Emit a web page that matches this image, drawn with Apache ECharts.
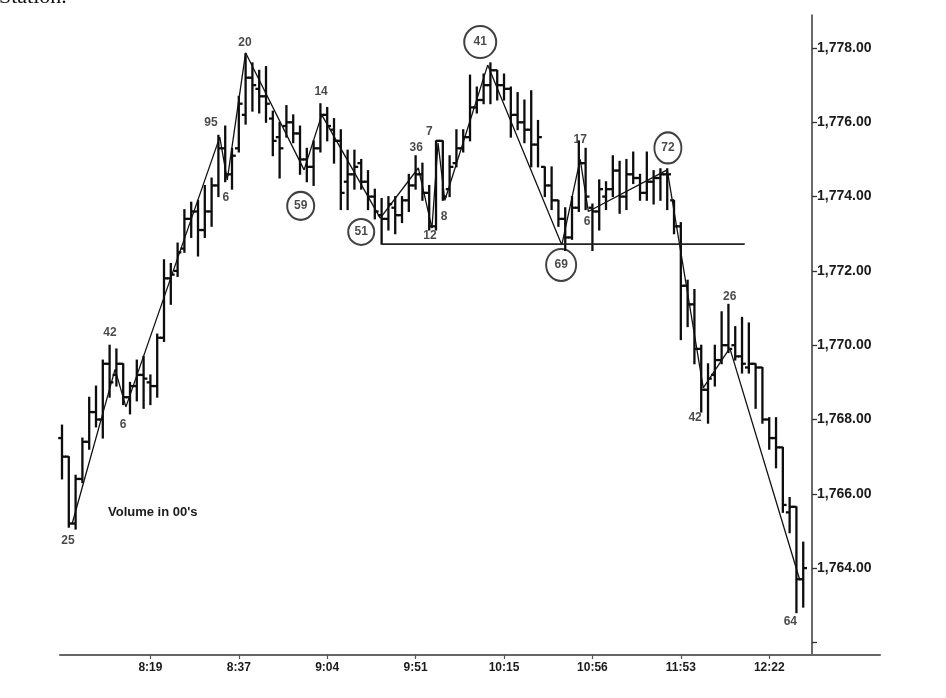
<!DOCTYPE html>
<html>
<head>
<meta charset="utf-8">
<script src="https://cdn.jsdelivr.net/npm/echarts@6/dist/echarts.min.js"></script>
<style>
html,body{margin:0;padding:0;background:#fff;}
#chart{width:946px;height:698px;}
</style>
</head>
<body>
<div id="chart"></div>
<script>
// ---- data ----
const opens  = [1767.5,1767.0,1765.2,1766.4,1767.4,1768.2,1768.0,1769.5,1769.2,1769.5,
                1768.6,1768.9,1769.2,1769.0,1768.9,1770.2,1771.8,1772.0,1772.6,1773.4,
                1773.6,1773.1,1773.6,1774.3,1775.3,1774.6,1775.3,1776.2,1777.2,1776.9,
                1776.7,1776.1,1775.6,1775.9,1776.0,1775.7,1775.0,1774.8,1775.3,1776.2,
                1775.8,1775.5,1774.4,1774.6,1774.9,1774.4,1774.0,1773.5,1773.4,1773.7,
                1773.5,1773.9,1774.3,1774.6,1774.1,1773.2,1775.5,1774.2,1774.9,1775.3,
                1775.6,1776.4,1776.6,1777.0,1777.4,1777.0,1776.9,1776.2,1776.0,1775.8,
                1775.4,1774.8,1774.3,1773.9,1773.4,1772.9,1773.7,1774.9,1773.7,1773.6,
                1774.0,1774.2,1774.7,1774.0,1774.6,1774.5,1774.1,1774.4,1774.5,1774.6,
                1773.9,1773.2,1771.6,1771.1,1769.9,1768.8,1769.2,1769.6,1770.0,1770.0,
                1769.7,1769.4,1769.5,1769.4,1768.0,1767.5,1767.25,1765.5,1765.65,1763.7];
const highs  = [1767.85,1767.0,1766.5,1767.5,1768.6,1768.9,1769.6,1770.0,1769.9,1769.5,
                1769.0,1769.6,1769.7,1769.2,1770.3,1772.3,1772.2,1772.75,1773.65,1773.85,
                1773.9,1774.3,1774.5,1775.65,1775.9,1775.3,1776.7,1777.85,1777.6,1777.4,
                1777.5,1776.3,1776.0,1776.45,1776.2,1775.9,1775.3,1775.5,1776.5,1776.4,
                1776.1,1775.8,1775.25,1775.25,1775.0,1774.7,1774.2,1773.95,1774.0,1774.0,
                1774.0,1774.6,1775.1,1774.9,1774.3,1775.5,1775.5,1775.1,1775.8,1775.8,
                1777.27,1776.95,1777.3,1777.6,1777.4,1777.3,1776.95,1776.8,1776.6,1776.85,
                1776.05,1774.8,1774.8,1773.9,1773.7,1774.0,1775.5,1775.3,1773.8,1774.45,
                1774.4,1775.1,1774.95,1775.0,1775.2,1774.6,1775.2,1774.7,1774.75,1774.75,
                1773.9,1773.3,1771.75,1771.5,1770.0,1769.5,1770.0,1770.9,1771.1,1770.5,
                1770.75,1770.6,1769.5,1769.4,1768.05,1768.05,1767.25,1765.9,1765.65,1764.7];
const lows   = [1766.4,1765.1,1765.05,1766.3,1767.2,1767.8,1767.5,1768.6,1768.9,1768.4,
                1768.15,1768.5,1768.3,1768.4,1768.6,1770.1,1771.1,1771.85,1772.5,1772.9,
                1772.4,1772.9,1773.2,1774.0,1774.4,1774.2,1775.2,1775.95,1776.3,1776.25,
                1776.0,1775.1,1774.5,1775.6,1775.45,1774.6,1774.4,1774.3,1775.2,1775.5,
                1774.9,1773.65,1773.65,1774.2,1774.2,1773.65,1773.4,1772.72,1773.1,1773.0,
                1773.3,1773.6,1774.2,1773.9,1773.1,1773.1,1773.9,1774.0,1774.8,1775.2,
                1775.5,1776.25,1776.5,1776.5,1776.6,1776.6,1775.6,1775.8,1775.45,1774.8,
                1774.8,1774.0,1773.65,1773.2,1772.55,1772.85,1773.6,1773.65,1772.55,1773.1,
                1773.65,1774.0,1773.55,1773.65,1774.35,1773.9,1773.9,1773.8,1773.9,1773.65,
                1773.0,1770.15,1770.5,1769.5,1768.2,1767.9,1768.9,1769.5,1769.8,1769.6,
                1769.25,1769.25,1768.3,1767.9,1767.2,1766.7,1765.5,1764.95,1762.8,1762.95];
const closes = [1767.0,1765.2,1766.4,1767.4,1768.2,1768.0,1769.5,1769.0,1769.5,1768.6,
                1768.9,1769.2,1769.1,1768.9,1770.2,1771.8,1771.9,1772.5,1773.4,1773.6,
                1773.1,1773.6,1774.3,1775.3,1774.6,1775.1,1776.5,1777.2,1777.0,1776.7,
                1776.5,1775.5,1775.3,1776.0,1775.7,1775.0,1774.8,1775.3,1776.2,1775.9,
                1775.5,1774.1,1774.6,1774.8,1774.4,1774.0,1773.6,1773.4,1773.8,1773.5,
                1773.9,1774.3,1774.6,1774.1,1773.2,1775.5,1774.0,1774.8,1775.3,1775.6,
                1776.4,1776.6,1777.0,1777.4,1777.0,1776.9,1776.2,1776.0,1775.8,1775.4,
                1775.6,1774.3,1773.9,1773.4,1772.9,1773.7,1774.9,1774.0,1773.6,1774.2,
                1774.2,1774.7,1774.0,1774.6,1774.5,1774.1,1774.4,1774.5,1774.6,1774.6,
                1773.2,1771.6,1771.1,1769.9,1768.8,1769.1,1769.6,1770.0,1769.9,1769.7,
                1769.5,1769.5,1769.4,1768.0,1767.5,1767.25,1765.7,1765.65,1763.7,1764.0];

// swing (wave) line pivots: bar position, price
const swingPos   = [1.5, 7.8, 9.4, 23.2, 24.3, 27.0, 35.6, 38.2, 46.8, 52.4, 54.4, 55.3, 56.3, 62.6, 73.5, 76.2, 77.4, 89.0, 94.3, 98.2, 108.5];
const swingPrice = [1765.2, 1769.35, 1768.34, 1775.6, 1774.45, 1777.87, 1774.72, 1776.2, 1773.42, 1774.77, 1773.15, 1775.44, 1773.9, 1777.54, 1772.7, 1775.0, 1773.6, 1774.72, 1768.85, 1769.92, 1763.68];

// support line
const supportPrice = 1772.72;
const supportFrom = 47;
const supportTo = 100.4;

// volume annotations (in 00's)
const volText   = ['25','42','6','95','6','20','59','14','51','36','7','12','8','41','69','17','6','72','42','26','64'];
const volPos    = [0.88, 7.06, 8.97, 21.9, 24.1, 26.9, 35.1, 38.1, 44.0, 52.1, 54.0, 54.1, 56.2, 61.5, 73.4, 76.2, 77.2, 89.1, 93.1, 98.2, 107.1];
const volPrice  = [1764.73, 1770.33, 1767.85, 1775.98, 1773.96, 1778.13, 1773.75, 1776.82, 1773.05, 1775.31, 1775.74, 1772.94, 1773.45, 1778.16, 1772.16, 1775.52, 1773.32, 1775.31, 1768.04, 1771.30, 1762.55];
const volCircle = [0,0,0,0,0,0,[27,28],0,[26,26],0,0,0,0,[32,32],[30,32],0,0,[27,31],0,0,0];

// axis ticks
const xTickPos    = [13, 26, 39, 52, 65, 78, 91, 104];
const xTickLabels = ['8:19','8:37','9:04','9:51','10:15','10:56','11:53','12:22'];
const yTickValues  = [1762, 1764, 1766, 1768, 1770, 1772, 1774, 1776, 1778];
const yLabelValues = [1764, 1766, 1768, 1770, 1772, 1774, 1776, 1778];

// ---- chart ----
const FONT = '"Liberation Sans", Arial, sans-serif';
const chart = echarts.init(document.getElementById('chart'));

const barData = opens.map((o, i) => [i, o, highs[i], lows[i], closes[i]]);

function fmtPrice(v) {
  const s = v.toFixed(2);
  const parts = s.split('.');
  const int = parts[0].replace(/\B(?=(\d{3})+(?!\d))/g, ',');
  return int + '.' + parts[1];
}

const TICK = 3.8;
function renderBar(params, api) {
  const x = api.value(0);
  const pO = api.coord([x, api.value(1)]);
  const pH = api.coord([x, api.value(2)]);
  const pL = api.coord([x, api.value(3)]);
  const pC = api.coord([x, api.value(4)]);
  const st = { stroke: '#0d0d0d', lineWidth: 2.3 };
  return {
    type: 'group',
    children: [
      { type: 'line', shape: { x1: pH[0], y1: pH[1] - 0.5, x2: pL[0], y2: pL[1] + 0.5 }, style: st },
      { type: 'line', shape: { x1: pO[0] - TICK, y1: pO[1], x2: pO[0], y2: pO[1] }, style: st },
      { type: 'line', shape: { x1: pC[0], y1: pC[1], x2: pC[0] + TICK, y2: pC[1] }, style: st }
    ]
  };
}

const annoData = volText.map((t, k) => {
  const c = volCircle[k];
  return {
    value: [volPos[k], volPrice[k]],
    name: t,
    symbol: 'circle',
    symbolSize: c ? c : 1,
    itemStyle: c ? { color: 'rgba(0,0,0,0)', borderColor: '#111', borderWidth: 2 }
                 : { color: 'rgba(0,0,0,0)', borderWidth: 0 }
  };
});

const option = {
  animation: false,
  backgroundColor: '#ffffff',
  grid: { left: 60, right: 66, top: 15, bottom: 43 },
  xAxis: {
    type: 'value',
    min: -0.294,
    max: 120.29,
    axisLine: { onZero: false, lineStyle: { color: '#666', width: 2 } },
    axisTick: { customValues: xTickPos, length: 4, lineStyle: { color: '#555', width: 1.2 } },
    axisLabel: {
      customValues: xTickPos,
      margin: 7,
      formatter: function (v) { const k = xTickPos.indexOf(Math.round(v)); return k >= 0 ? xTickLabels[k] : ''; },
      color: '#1a1a1a', fontFamily: FONT, fontWeight: 'bold', fontSize: 12
    },
    splitLine: { show: false }
  },
  yAxis: {
    type: 'value',
    position: 'right',
    offset: -68,
    min: 1761.661,
    max: 1778.888,
    axisLine: { show: true, onZero: false, lineStyle: { color: '#444', width: 1.6 } },
    axisTick: { show: true, customValues: yTickValues, length: 5, lineStyle: { color: '#333', width: 1.3 } },
    axisLabel: {
      customValues: yLabelValues,
      margin: 5,
      formatter: function (v) { return yLabelValues.indexOf(Math.round(v)) >= 0 ? fmtPrice(v) : ''; },
      color: '#1a1a1a', fontFamily: FONT, fontWeight: 'bold', fontSize: 14
    },
    splitLine: { show: false }
  },
  series: [
    {
      type: 'custom',
      name: 'bars',
      renderItem: renderBar,
      encode: { x: 0, y: [1, 2, 3, 4] },
      data: barData,
      z: 2
    },
    {
      type: 'line',
      name: 'swing',
      data: swingPos.map((p, k) => [p, swingPrice[k]]),
      symbol: 'none',
      lineStyle: { color: '#111', width: 1.3 },
      z: 3
    },
    {
      type: 'line',
      name: 'support',
      data: [[supportFrom, supportPrice], [supportTo, supportPrice]],
      symbol: 'none',
      lineStyle: { color: '#222', width: 1.8 },
      z: 3
    },
    {
      type: 'scatter',
      name: 'volume',
      data: annoData,
      label: {
        show: true,
        position: 'inside',
        formatter: function (p) { return p.name; },
        color: '#1a1a1a', fontFamily: FONT, fontWeight: 'bold', fontSize: 12
      },
      emphasis: { disabled: true },
      z: 4
    }
  ],
  graphic: [
    {
      type: 'text', left: 108, top: 506,
      style: { text: "Volume in 00's", fill: '#1a1a1a', font: 'bold 13px ' + FONT }
    },
    {
      type: 'text', left: -1, top: -14,
      style: { text: 'Station.', fill: '#111', font: '22px "Liberation Serif", "DejaVu Serif", serif' }
    }
  ]
};

chart.setOption(option);
</script>
</body>
</html>
